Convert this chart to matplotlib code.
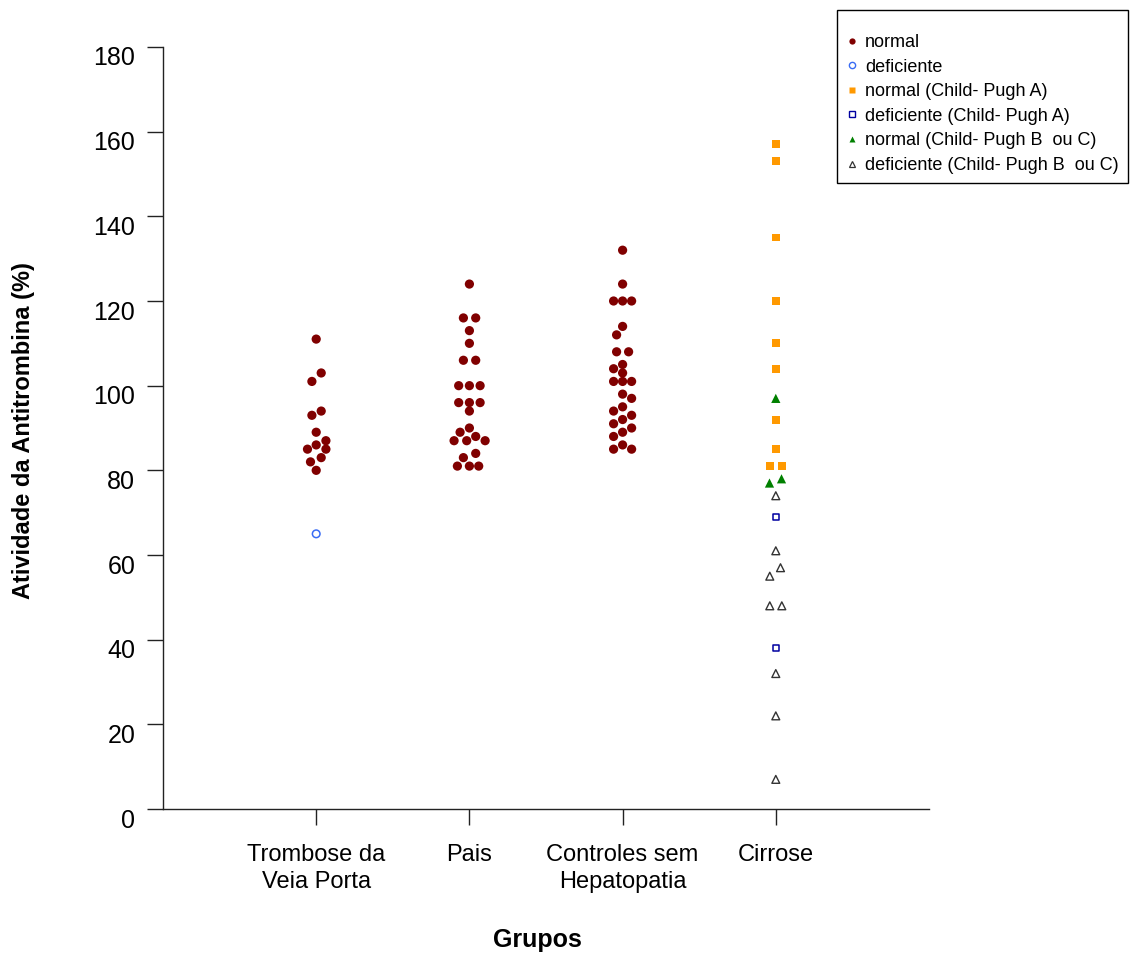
import matplotlib
matplotlib.use('Agg')
import matplotlib.pyplot as plt
import matplotlib.transforms as mtransforms
from matplotlib.lines import Line2D
from matplotlib.patches import Rectangle

plt.rcParams['font.family'] = ['Liberation Sans', 'DejaVu Sans']

# ---------------- data ----------------
group_labels = ["Trombose da\nVeia Porta", "Pais", "Controles sem\nHepatopatia", "Cirrose"]
y_ticks = [0, 20, 40, 60, 80, 100, 120, 140, 160, 180]

# Trombose da Veia Porta
tvp_normal = [111, 103, 101, 94, 93, 89, 87, 86, 85, 85, 83, 82, 80]
tvp_normal_jit = [0, 5, -4.3, 5, -4.3, 0, 9.7, 0, -8.7, 9.7, 5, -5.7, 0]
tvp_def = [65]
tvp_def_jit = [0]

# Pais
pais_normal = [124, 116, 116, 113, 110, 106, 106, 100, 100, 100, 96, 96, 96, 94,
               90, 89, 88, 87, 87, 87, 84, 83, 81, 81, 81]
pais_normal_jit = [0, -6, 6.3, 0, 0, -6, 6.3, -10.7, 0, 10.7, -10.7, 0, 10.7, 0,
                   0, -9.3, 6.3, -15.3, -2.7, 15.7, 6.3, -6, -12, 0, 9.3]

# Controles sem Hepatopatia
ctrl_normal = [132, 124, 120, 120, 120, 114, 112, 108, 108, 105, 104, 103, 101, 101,
               101, 98, 97, 95, 94, 93, 92, 91, 90, 89, 88, 86, 85, 85]
ctrl_normal_jit = [0, 0, -9, 0, 9, 0, -6, -6, 6, 0, -9, 0, -9, 0,
                   9, 0, 9, 0, -9, 9, 0, -9, 9, 0, -9, 0, -9, 9]

# Cirrose
cirr_a_normal = [157, 153, 135, 120, 110, 104, 92, 85, 81, 81]
cirr_a_normal_jit = [0, 0, 0, 0, 0, 0, 0, 0, -6, 6]
cirr_a_def = [69, 38]
cirr_a_def_jit = [0, 0]
cirr_bc_normal = [97, 78, 77]
cirr_bc_normal_jit = [0, 5.7, -6.3]
cirr_bc_def = [74, 61, 57, 55, 48, 48, 32, 22, 7]
cirr_bc_def_jit = [0, 0, 4.7, -6, -6, 6, 0, 0, 0]

legend_labels = ["normal", "deficiente", "normal (Child- Pugh A)", "deficiente (Child- Pugh A)",
                 "normal (Child- Pugh B  ou C)", "deficiente (Child- Pugh B  ou C)"]

JIT_UNIT = 1 / 153.0  # jitter values are in fractions of 1/153 of group spacing

# ---------------- figure ----------------
W, H = 1130, 955
fig = plt.figure(figsize=(W / 100, H / 100), dpi=100)
ax = fig.add_axes([163 / W, 1 - 809 / H, 766 / W, 762 / H])

def xs(group_pos, jit):
    return [group_pos + j * JIT_UNIT for j in jit]

maroon = '#800000'
ax.scatter(xs(1, tvp_normal_jit), tvp_normal, s=44, marker='o', color=maroon, edgecolors='none', zorder=3)
ax.scatter(xs(1, tvp_def_jit), tvp_def, s=30, marker='o', facecolors='none', edgecolors='#3a6cf4', linewidths=1.1, zorder=3)
ax.scatter(xs(2, pais_normal_jit), pais_normal, s=44, marker='o', color=maroon, edgecolors='none', zorder=3)
ax.scatter(xs(3, ctrl_normal_jit), ctrl_normal, s=44, marker='o', color=maroon, edgecolors='none', zorder=3)
ax.scatter(xs(4, cirr_a_normal_jit), cirr_a_normal, s=33, marker='s', color='#ff9900', edgecolors='none', zorder=3)
ax.scatter(xs(4, cirr_a_def_jit), cirr_a_def, s=22, marker='s', facecolors='none', edgecolors='#0000a0', linewidths=1.1, zorder=3)
ax.scatter(xs(4, cirr_bc_normal_jit), cirr_bc_normal, s=44, marker='^', color='#008000', edgecolors='none', zorder=3)
ax.scatter(xs(4, cirr_bc_def_jit), cirr_bc_def, s=32, marker='^', facecolors='none', edgecolors='#333333', linewidths=1.0, zorder=3)

ax.set_xlim(0, 5)
ax.set_ylim(0, 180)
ax.set_xticks([1, 2, 3, 4])
ax.set_xticklabels(group_labels, fontsize=17, linespacing=1.3)
ax.set_yticks(y_ticks)
ax.set_yticklabels([str(t) for t in y_ticks], fontsize=18)
for s in ['top', 'right']:
    ax.spines[s].set_visible(False)
for s in ['left', 'bottom']:
    ax.spines[s].set_linewidth(1.0)
    ax.spines[s].set_color('#222222')
ax.tick_params(axis='both', direction='out', length=11.5, width=1.0, color='#222222')
ax.tick_params(axis='y', pad=8.5)
ax.tick_params(axis='x', pad=13.5)

# y tick labels sit slightly below their ticks in the reference
shift = mtransforms.ScaledTranslation(0, -0.09, fig.dpi_scale_trans)
for lab in ax.get_yticklabels():
    lab.set_transform(lab.get_transform() + shift)

fig.text(12 / W, 1 - 431 / H, "Atividade da Antitrombina (%)", rotation=90, ha='left', va='center',
         fontsize=17, fontweight='bold')
fig.text(537 / W, 1 - 940 / H, "Grupos", ha='center', va='center', fontsize=18, fontweight='bold')

# ---------------- legend ----------------
handles = [
    Line2D([], [], linestyle='none', marker='o', markersize=4.5, markerfacecolor=maroon, markeredgecolor='none'),
    Line2D([], [], linestyle='none', marker='o', markersize=4.5, markerfacecolor='none', markeredgecolor='#3a6cf4', markeredgewidth=1.0),
    Line2D([], [], linestyle='none', marker='s', markersize=4.5, markerfacecolor='#ff9900', markeredgecolor='none'),
    Line2D([], [], linestyle='none', marker='s', markersize=4.0, markerfacecolor='none', markeredgecolor='#0000a0', markeredgewidth=1.0),
    Line2D([], [], linestyle='none', marker='^', markersize=5.0, markerfacecolor='#008000', markeredgecolor='none'),
    Line2D([], [], linestyle='none', marker='^', markersize=5.0, markerfacecolor='none', markeredgecolor='#333333', markeredgewidth=0.9),
]
fig.legend(handles, legend_labels, loc='upper left', bbox_to_anchor=(845 / W, 1 - 34 / H),
           frameon=False, borderpad=0, borderaxespad=0, fontsize=13, handlelength=0.8,
           handletextpad=0.3, labelspacing=0.42)
fig.add_artist(Rectangle((837 / W, 1 - 183 / H), 291 / W, 173 / H, transform=fig.transFigure,
                         fill=False, edgecolor='black', linewidth=1.0))

fig.savefig('out.png', dpi=100)
